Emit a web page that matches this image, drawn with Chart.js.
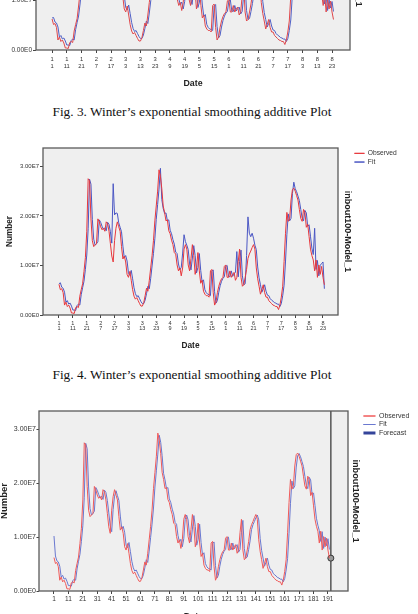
<!DOCTYPE html>
<html lang="en">
  <head>
    <title>Winter's exponential smoothing plots</title>
    <script src="https://cdn.jsdelivr.net/npm/chart.js"></script>
    <style>
      body {
        margin: 0;
        width: 418px;
        height: 614px;
        overflow: hidden;
        background: #fff;
        position: relative;
      }
      canvas {
        position: absolute;
        left: 0;
      }
      .caption {
        position: absolute;
        left: 0;
        width: 384px;
        text-align: center;
        font-family: "Liberation Serif", serif;
        font-size: 13.3px;
        line-height: 16px;
        color: #111;
        white-space: nowrap;
      }
    </style>
  </head>
  <body>
    <canvas id="chartTop" width="426" height="230" style="top: -140px"></canvas>
    <div class="caption" style="top: 104px">Fig. 3. Winter’s exponential smoothing additive Plot</div>
    <canvas id="chartMid" width="426" height="226" style="top: 130px"></canvas>
    <div class="caption" style="top: 367px">Fig. 4. Winter’s exponential smoothing additive Plot</div>
    <canvas id="chartBottom" width="426" height="232" style="top: 390px"></canvas>

    <script>
      // values in millions, one per observation (1..192)
      const observed = [
        6.2, 5.1, 5.3, 4.5, 2.0, 2.6, 1.7, 2.0, 1.4, 0.4,
        0.4, 0.3, 1.5, 1.7, 1.5, 3.8, 5.1, 6.3, 8.8, 11.6,
        16.9, 27.5, 27.1, 19.4, 15.0, 13.8, 14.1, 14.4, 19.4, 18.8,
        17.8, 17.2, 17.5, 16.9, 18.8, 18.4, 16.9, 14.4, 11.9, 10.7,
        15.0, 17.5, 18.8, 17.8, 16.9, 13.8, 11.3, 11.9, 10.7, 8.2,
        7.6, 8.8, 7.0, 5.1, 3.8, 3.2, 3.5, 2.9, 2.3, 1.8,
        1.8, 2.5, 3.9, 5.4, 4.8, 7.0, 9.5, 12.0, 15.0, 19.0,
        22.0, 25.0, 29.3, 28.0, 25.5, 22.0, 20.7, 19.0, 19.2, 17.0,
        16.4, 15.1, 14.2, 12.6, 12.3, 10.1, 8.9, 9.5, 7.9, 9.5,
        13.3, 14.2, 13.3, 10.1, 8.9, 11.4, 14.2, 12.0, 8.2, 9.5,
        12.6, 8.9, 6.4, 7.0, 4.8, 4.2, 3.9, 3.9, 3.6, 8.9,
        9.2, 4.5, 2.0, 2.6, 4.5, 5.8, 6.7, 7.3, 7.6, 9.8,
        10.1, 7.6, 7.6, 8.9, 7.6, 8.2, 8.6, 7.0, 7.6, 10.8,
        13.3, 7.6, 5.8, 6.1, 7.6, 9.2, 11.4, 12.3, 12.9, 13.6,
        14.2, 13.3, 9.5, 7.3, 5.8, 4.2, 5.1, 6.1, 4.5, 3.6,
        3.6, 2.9, 2.6, 2.3, 2.0, 1.9, 1.7, 1.7, 1.1, 2.0,
        3.6, 5.8, 10.8, 16.4, 20.7, 18.9, 19.5, 23.2, 25.3, 25.6,
        25.0, 24.1, 23.2, 21.3, 19.5, 18.9, 21.3, 20.7, 17.7, 18.3,
        15.8, 13.3, 12.0, 11.1, 8.9, 11.1, 7.6, 10.1, 8.2, 9.8,
        7.6, 6.1,
      ];

      // Fig. 3 fit
      const fitTop = [
        6.4, 6.5, 5.6, 5.4, 4.6, 2.6, 2.9, 2.2, 2.4, 1.8,
        1.0, 1.0, 0.9, 1.9, 2.2, 2.0, 4.1, 5.5, 6.8, 9.2,
        12.1, 17.4, 27.4, 26.4, 19.3, 15.3, 14.1, 14.4, 14.8, 19.2,
        18.7, 17.9, 17.3, 17.6, 17.0, 18.7, 18.3, 16.8, 14.5, 12.1,
        11.0, 15.1, 17.6, 18.6, 17.7, 16.8, 13.9, 11.5, 12.0, 10.9,
        8.5, 8.0, 9.0, 7.3, 5.5, 4.3, 3.7, 3.9, 3.3, 2.7,
        2.3, 2.3, 3.0, 4.3, 5.8, 5.3, 7.4, 9.9, 12.4, 15.4,
        19.3, 22.3, 25.4, 28.9, 27.6, 25.1, 21.8, 20.6, 19.0, 19.2,
        17.1, 16.4, 15.2, 14.3, 12.7, 12.4, 10.3, 9.1, 9.6, 8.2,
        9.7, 13.3, 14.1, 13.2, 10.3, 9.1, 11.5, 14.0, 12.0, 8.5,
        9.6, 12.4, 9.0, 6.7, 7.1, 5.1, 4.5, 4.2, 4.1, 3.9,
        8.8, 9.1, 4.7, 2.4, 2.9, 4.6, 5.9, 6.8, 7.4, 7.7,
        9.8, 10.0, 7.8, 7.7, 8.9, 7.8, 8.3, 8.6, 7.2, 7.7,
        10.8, 13.1, 7.9, 6.1, 6.3, 7.7, 9.3, 11.4, 12.3, 12.9,
        13.6, 14.1, 13.2, 9.7, 7.5, 6.1, 4.6, 5.3, 6.1, 4.8,
        4.0, 3.9, 3.3, 3.0, 2.8, 2.5, 2.4, 2.2, 2.2, 1.7,
        2.3, 3.9, 6.0, 10.7, 16.2, 20.4, 19.0, 19.5, 23.0, 25.1,
        25.5, 24.9, 24.0, 23.1, 21.3, 19.6, 19.0, 21.1, 20.6, 17.9,
        18.2, 15.9, 13.5, 12.2, 11.2, 9.2, 11.0, 7.9, 10.0, 8.4,
        9.7, 7.7,
      ];

      // Fig. 4 fit
      const fitMid = [
        6.3, 6.5, 5.6, 5.4, 4.6, 2.6, 2.9, 2.2, 2.4, 1.8,
        1.0, 1.0, 0.9, 1.9, 2.2, 2.0, 4.1, 5.5, 6.8, 9.2,
        12.1, 17.4, 27.4, 26.4, 19.3, 15.3, 14.1, 14.4, 14.8, 19.2,
        18.7, 17.9, 17.3, 17.6, 17.0, 18.7, 18.3, 16.8, 14.5, 26.5,
        20.2, 20.6, 20.5, 18.6, 17.7, 16.8, 13.9, 11.5, 12.0, 10.9,
        8.5, 8.0, 9.0, 7.3, 5.5, 4.3, 3.7, 3.9, 3.3, 2.7,
        2.3, 2.3, 3.0, 4.3, 5.8, 5.3, 7.4, 9.9, 12.4, 15.4,
        19.3, 22.3, 25.4, 29.6, 23.3, 21.5, 20.5, 20.6, 19.0, 19.2,
        17.1, 16.4, 15.2, 14.3, 12.7, 12.4, 10.3, 9.1, 9.6, 12.5,
        16.2, 14.8, 14.1, 13.2, 10.3, 9.1, 11.5, 14.0, 12.0, 8.5,
        9.6, 12.4, 9.0, 6.7, 7.1, 5.1, 4.5, 4.2, 4.1, 3.9,
        8.8, 9.1, 4.7, 2.4, 2.9, 4.6, 5.9, 6.8, 7.4, 7.7,
        9.8, 10.0, 7.8, 7.7, 8.9, 7.8, 8.3, 8.6, 12.8, 7.7,
        10.8, 13.1, 7.9, 6.1, 6.3, 12.0, 19.8, 16.5, 15.8, 16.5,
        15.5, 14.1, 13.2, 9.7, 7.5, 6.1, 4.6, 5.3, 6.1, 4.8,
        4.0, 3.9, 3.3, 3.0, 2.8, 2.5, 2.4, 2.2, 2.2, 1.7,
        2.3, 3.9, 6.0, 10.7, 16.2, 20.4, 19.0, 19.5, 24.5, 26.8,
        25.5, 24.9, 24.0, 23.1, 21.3, 19.6, 19.0, 21.1, 20.6, 17.9,
        18.2, 15.9, 13.5, 12.2, 17.5, 9.2, 11.0, 7.9, 10.0, 10.4,
        10.7, 5.3,
      ];

      // forecast model fit (bottom plot)
      const fitBottom = [
        10.2, 6.5, 5.6, 5.4, 4.6, 2.6, 2.9, 2.2, 2.4, 1.8,
        1.0, 1.0, 0.9, 1.9, 2.2, 2.0, 4.1, 5.5, 6.8, 9.2,
        12.1, 17.4, 27.4, 26.4, 19.3, 15.3, 14.1, 14.4, 14.8, 19.2,
        18.7, 17.9, 17.3, 17.6, 17.0, 18.7, 18.3, 16.8, 14.5, 12.1,
        11.0, 15.1, 17.6, 18.6, 17.7, 16.8, 13.9, 11.5, 12.0, 10.9,
        8.5, 8.0, 9.0, 7.3, 5.5, 4.3, 3.7, 3.9, 3.3, 2.7,
        2.3, 2.3, 3.0, 4.3, 5.8, 5.3, 7.4, 9.9, 12.4, 15.4,
        19.3, 22.3, 25.4, 28.9, 27.6, 25.1, 21.8, 20.6, 19.0, 19.2,
        17.1, 16.4, 15.2, 14.3, 12.7, 12.4, 10.3, 9.1, 9.6, 8.2,
        9.7, 13.3, 14.1, 13.2, 10.3, 9.1, 11.5, 14.0, 12.0, 8.5,
        9.6, 12.4, 9.0, 6.7, 7.1, 5.1, 4.5, 4.2, 4.1, 3.9,
        8.8, 9.1, 4.7, 2.4, 2.9, 4.6, 5.9, 6.8, 7.4, 7.7,
        9.8, 10.0, 7.8, 7.7, 8.9, 7.8, 8.3, 8.6, 7.2, 7.7,
        10.8, 13.1, 7.9, 6.1, 6.3, 7.7, 9.3, 11.4, 12.3, 12.9,
        13.6, 14.1, 13.2, 9.7, 7.5, 6.1, 4.6, 5.3, 6.1, 4.8,
        4.0, 3.9, 3.3, 3.0, 2.8, 2.5, 2.4, 2.2, 2.2, 1.7,
        2.3, 3.9, 6.0, 10.7, 16.2, 20.4, 19.0, 19.5, 23.0, 25.1,
        25.5, 24.9, 24.0, 23.1, 21.3, 19.6, 19.0, 21.1, 20.6, 17.9,
        18.2, 15.9, 13.5, 12.2, 11.2, 9.2, 11.0, 7.9, 10.0, 8.4,
        9.7, 7.7,
      ];

      const forecastIndex = [193];
      const forecastValue = [6.1];

      // x axis ticks: observation number and its month / day
      const tickIndex = [1, 11, 21, 31, 41, 51, 61, 71, 81, 91, 101, 111, 121, 131, 141, 151, 161, 171, 181, 191];
      const tickMonth = ["1", "1", "1", "2", "2", "3", "3", "3", "4", "4", "5", "5", "6", "6", "6", "7", "7", "8", "8", "8"];
      const tickDay = ["1", "11", "21", "7", "17", "3", "13", "23", "9", "19", "5", "15", "1", "11", "21", "7", "17", "3", "13", "23"];
      const yTicks = [0, 10, 20, 30];

      Chart.defaults.font.family = "'Liberation Sans', Arial, sans-serif";

      function points(values) {
        return values.map((v, i) => ({ x: i + 1, y: v * 1e6 }));
      }

      function sci(v) {
        return v === 0 ? "0.00E0" : (v / 1e7).toFixed(2) + "E7";
      }

      // grey plot background and frame
      const framePlugin = {
        id: "frame",
        beforeDraw(chart) {
          const a = chart.chartArea;
          const ctx = chart.ctx;
          ctx.save();
          ctx.fillStyle = "#efefef";
          ctx.fillRect(a.left, a.top, a.right - a.left, a.bottom - a.top);
          ctx.restore();
        },
        afterDatasetsDraw(chart) {
          const a = chart.chartArea;
          const ctx = chart.ctx;
          ctx.save();
          ctx.strokeStyle = "#5a5a5a";
          ctx.lineWidth = 1.3;
          ctx.strokeRect(a.left, a.top, a.right - a.left, a.bottom - a.top);
          ctx.restore();
        },
      };

      function buildChart(id, s) {
        return new Chart(document.getElementById(id), {
          type: "line",
          data: { datasets: s.datasets },
          options: {
            responsive: false,
            animation: false,
            layout: { padding: { top: s.top, right: s.padRight, bottom: 0, left: 0 } },
            elements: {
              point: { radius: 0 },
              line: { tension: 0, borderWidth: 1 },
            },
            plugins: {
              tooltip: { enabled: false },
              legend: {
                position: "right",
                align: "start",
                labels: {
                  boxWidth: s.legendBox,
                  boxHeight: 0,
                  padding: s.legendPad,
                  color: "#333",
                  font: { size: s.legendFont },
                  filter: (item) => item.text !== "",
                },
              },
            },
            scales: {
              x: {
                type: "linear",
                min: s.xMin,
                max: s.xMax,
                afterBuildTicks: (axis) => {
                  axis.ticks = tickIndex.map((v) => ({ value: v }));
                },
                afterFit: (axis) => {
                  axis.height = s.xHeight;
                },
                grid: { drawOnChartArea: false, tickLength: 3, color: "#444" },
                border: { display: false },
                ticks: {
                  autoSkip: false,
                  maxRotation: 0,
                  padding: s.xPad,
                  color: "#333",
                  font: { size: s.xFont, lineHeight: s.xLine },
                  callback: s.xLabel,
                },
                title: {
                  display: true,
                  text: "Date",
                  color: "#222",
                  font: { size: s.dateFont, weight: "bold" },
                  padding: { top: 0, bottom: s.datePad },
                },
              },
              y: {
                min: 0,
                max: s.yMax,
                afterBuildTicks: (axis) => {
                  axis.ticks = yTicks.map((v) => ({ value: v * 1e6 }));
                },
                afterFit: (axis) => {
                  axis.width = s.left;
                },
                grid: { drawOnChartArea: false, tickLength: s.yTick, color: "#444" },
                border: { display: false },
                ticks: {
                  padding: s.yPad,
                  color: "#333",
                  font: { size: s.yFont },
                  callback: (v) => sci(v),
                },
                title: {
                  display: true,
                  text: "Number",
                  color: "#222",
                  font: { size: s.numFont, weight: "bold", lineHeight: s.numLine },
                  padding: { top: s.numPad, bottom: 0 },
                },
              },
              y2: {
                position: "right",
                min: 0,
                max: 1,
                ticks: { display: false },
                grid: { display: false },
                border: { display: false },
                afterFit: (axis) => {
                  const c = axis.chart;
                  const lw = c.legend ? c.legend.width : 0;
                  axis.width = c.width - s.padRight - lw - s.right;
                },
                title: {
                  display: true,
                  text: "inbout100-Model_1",
                  color: "#222",
                  font: { size: s.modelFont, weight: "bold" },
                  padding: { top: s.modelPad, bottom: 0 },
                },
              },
            },
          },
          plugins: [framePlugin],
        });
      }

      const monthDay = (value, index) => [tickMonth[index], tickDay[index]];

      // Fig. 3 (only the lower part shows on the page)
      buildChart("chartTop", {
        datasets: [
          { label: "Observed", data: points(observed), borderColor: "#e0484c" },
          { label: "Fit", data: points(fitTop), borderColor: "#5060c6" },
        ],
        top: 22, left: 36, right: 350, padRight: 8.2, xHeight: 40,
        xMin: -9.9, xMax: 203.2, yMax: 3.36e7,
        legendBox: 10, legendPad: 2, legendFont: 6.7,
        xFont: 5.8, xLine: 1.2, xPad: 2.5, xLabel: monthDay,
        dateFont: 8.8, datePad: 0.7,
        yFont: 6.5, yTick: 3, yPad: 1,
        numFont: 8.2, numLine: 1.2, numPad: 5,
        modelFont: 9, modelPad: 0,
      });

      // Fig. 4
      buildChart("chartMid", {
        datasets: [
          { label: "Observed", data: points(observed), borderColor: "#e8383d" },
          { label: "Fit", data: points(fitMid), borderColor: "#4b57c4" },
        ],
        top: 18, left: 43, right: 338, padRight: 19.2, xHeight: 41,
        xMin: -10.5, xMax: 201.8, yMax: 3.37e7,
        legendBox: 10, legendPad: 2, legendFont: 6.7,
        xFont: 5.5, xLine: 1.0, xPad: 2.25, xLabel: monthDay,
        dateFont: 8.3, datePad: 5,
        yFont: 6, yTick: 3, yPad: 1,
        numFont: 8.2, numLine: 1.2, numPad: 5,
        modelFont: 9, modelPad: 0,
      });

      // forecast plot
      buildChart("chartBottom", {
        datasets: [
          { label: "Observed", data: points(observed), borderColor: "#f05a5a" },
          { label: "Fit", data: points(fitBottom), borderColor: "#6a78d0" },
          {
            label: "Forecast",
            data: forecastIndex.map((x, i) => ({ x: x, y: forecastValue[i] * 1e6 })),
            borderColor: "#34449a",
            borderWidth: 3,
            pointRadius: 3,
            pointBorderWidth: 1,
            pointBackgroundColor: "#9a9a9a",
            pointBorderColor: "#3a3a3a",
          },
          {
            label: "",
            data: [
              { x: forecastIndex[0], y: 0 },
              { x: forecastIndex[0], y: 3.34e7 },
            ],
            borderColor: "#555",
            borderWidth: 1.5,
          },
        ],
        top: 21, left: 39, right: 348, padRight: 6.7, xHeight: 31,
        xMin: -9.4, xMax: 204.9, yMax: 3.34e7,
        legendBox: 12, legendPad: 1.5, legendFont: 7,
        xFont: 6.5, xLine: 1.2, xPad: 1.1, xLabel: (value, index) => String(tickIndex[index]),
        dateFont: 9, datePad: 0,
        yFont: 7, yTick: 2.5, yPad: 0.5,
        numFont: 9.5, numLine: 1, numPad: 0,
        modelFont: 9.2, modelPad: 1,
      });
    </script>
  </body>
</html>
